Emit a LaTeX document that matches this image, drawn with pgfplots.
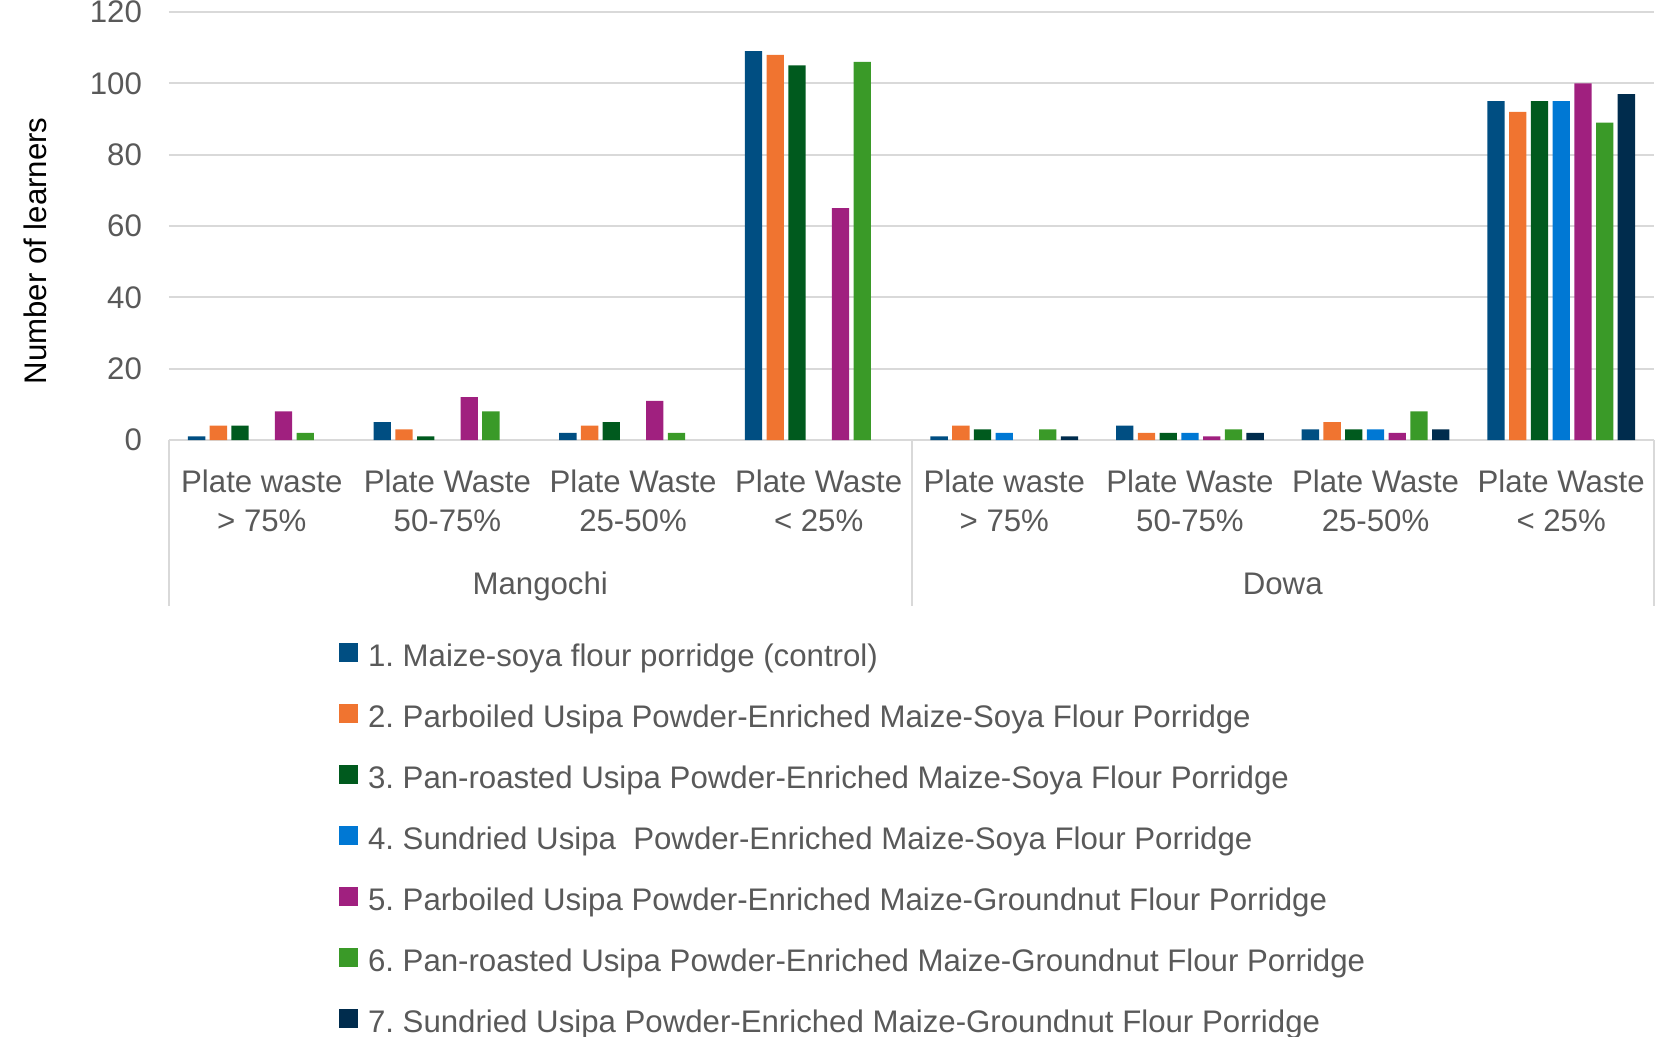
\documentclass[border=0pt]{standalone}
\usepackage{pgfplots}
\pgfplotsset{compat=1.18}
\usepackage{fontspec}
\setmainfont{Liberation Sans}
\frenchspacing
\definecolor{sA}{HTML}{004E82}
\definecolor{sB}{HTML}{F07430}
\definecolor{sC}{HTML}{005A1E}
\definecolor{sD}{HTML}{0078D4}
\definecolor{sE}{HTML}{A0207F}
\definecolor{sF}{HTML}{3A9A28}
\definecolor{sG}{HTML}{002C4D}
\definecolor{gridc}{HTML}{D9D9D9}
\definecolor{txt}{HTML}{595959}
\newcommand{\ff}{\fontsize{15.6}{19.75}\selectfont\frenchspacing}
\begin{document}
\begin{tikzpicture}
\begin{axis}[
  scale only axis,
  width=742.5pt, height=214pt,
  xmin=-0.5, xmax=7.5, ymin=0, ymax=120,
  ytick={0,20,...,120},
  xtick={0,...,7},
  xticklabels={{Plate waste\\> 75\%},{Plate Waste\\50-75\%},{Plate Waste\\25-50\%},{Plate Waste\\< 25\%},{Plate waste\\> 75\%},{Plate Waste\\50-75\%},{Plate Waste\\25-50\%},{Plate Waste\\< 25\%}},
  xticklabel style={align=center, font=\ff, text=txt, inner sep=0pt, anchor=north, yshift=-14.6pt},
  yticklabel style={font=\ff, text=txt, xshift=-10pt},
  /pgf/number format/assume math mode=true,
  major tick length=0pt,
  axis line style={draw=none},
  ymajorgrids,
  grid style={gridc, line width=1pt},
  ylabel={Number of learners},
  ylabel style={font=\ff, text=black, at={(axis description cs:-0.0902,0.4416)}, anchor=center},
  ybar=2.2pt, bar width=8.67pt,
  every axis plot/.append style={draw=none, legend image code/.code={\fill[##1] (0pt,-1.6pt) rectangle (9.5pt,7.8pt);}},
  clip=false,
  legend cell align=left,
  legend style={at={(axis description cs:0.1145,-0.4745)}, anchor=north west, draw=none, fill=none, inner sep=0pt, outer sep=0pt, font=\ff, text=txt, row sep=15.45pt, nodes={inner sep=0pt, text height=11pt, text depth=3.5pt}, /tikz/every odd column/.append style={column sep=5pt}},
]
\addplot[fill=sA] coordinates {(0,1) (1,5) (2,2) (3,109) (4,1) (5,4) (6,3) (7,95)};
\addplot[fill=sB] coordinates {(0,4) (1,3) (2,4) (3,108) (4,4) (5,2) (6,5) (7,92)};
\addplot[fill=sC] coordinates {(0,4) (1,1) (2,5) (3,105) (4,3) (5,2) (6,3) (7,95)};
\addplot[fill=sD] coordinates {(4,2) (5,2) (6,3) (7,95)};
\addplot[fill=sE] coordinates {(0,8) (1,12) (2,11) (3,65) (5,1) (6,2) (7,100)};
\addplot[fill=sF] coordinates {(0,2) (1,8) (2,2) (3,106) (4,3) (5,3) (6,8) (7,89)};
\addplot[fill=sG] coordinates {(4,1) (5,2) (6,3) (7,97)};
\legend{1. Maize-soya flour porridge (control),
2. Parboiled Usipa Powder-Enriched Maize-Soya Flour Porridge,
3. Pan-roasted Usipa Powder-Enriched Maize-Soya Flour Porridge,
4. Sundried Usipa\ \ Powder-Enriched Maize-Soya Flour Porridge,
5. Parboiled Usipa Powder-Enriched Maize-Groundnut Flour Porridge,
6. Pan-roasted Usipa Powder-Enriched Maize-Groundnut Flour Porridge,
7. Sundried Usipa Powder-Enriched Maize-Groundnut Flour Porridge}
\draw[gridc, line width=1pt] (axis cs:-0.5,0) -- ++(0pt,-83pt);
\draw[gridc, line width=1pt] (axis cs:3.5,0) -- ++(0pt,-83pt);
\draw[gridc, line width=1pt] (axis cs:7.5,0) -- ++(0pt,-83pt);
\node[font=\ff, text=txt, anchor=base, yshift=-77pt] at (axis cs:1.5,0) {Mangochi};
\node[font=\ff, text=txt, anchor=base, yshift=-77pt] at (axis cs:5.5,0) {Dowa};
\end{axis}
\pgfresetboundingbox
\useasboundingbox (-84.5pt,-298.5pt) rectangle (744.5pt,220pt);
\end{tikzpicture}
\end{document}
